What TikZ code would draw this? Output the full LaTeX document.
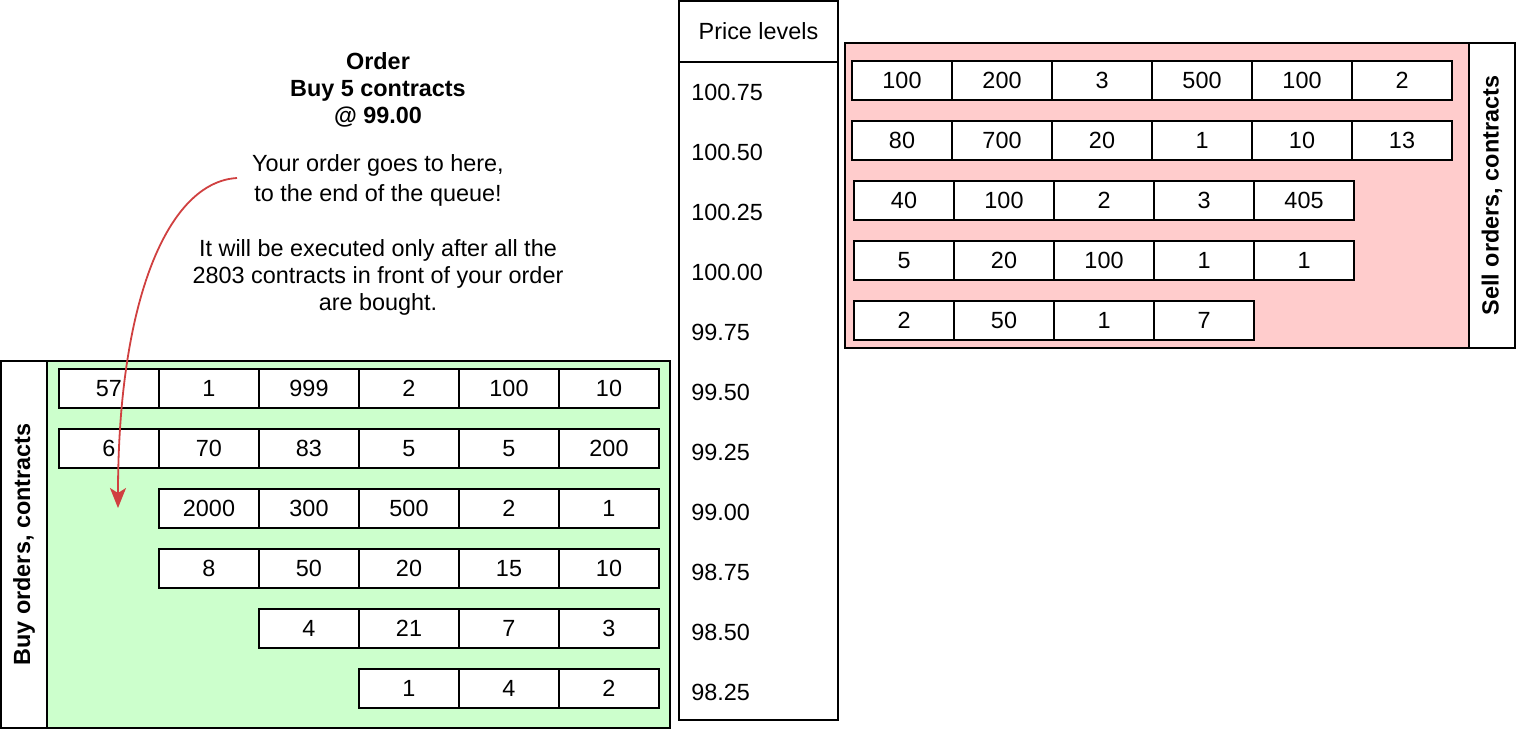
\documentclass[tikz,border=0pt]{standalone}
\usepackage{fontspec}
\setmainfont{Liberation Sans}
\usetikzlibrary{arrows.meta}
\definecolor{buyfill}{HTML}{CCFFCC}
\definecolor{sellfill}{HTML}{FFCCCC}
\definecolor{arrowred}{RGB}{208,64,64}
\begin{document}
\begin{tikzpicture}[x=0.5pt,y=-0.5pt,
  every node/.style={font=\fontsize{11.7}{13.5}\selectfont},
  cell/.style={draw=black,line width=1pt,fill=white,minimum width=50pt,minimum height=19.5pt,inner sep=0pt},
  panel/.style={draw=black,line width=1pt},
  pricelbl/.style={anchor=west,inner sep=0pt},
  sidelbl/.style={font=\fontsize{11.7}{13.5}\selectfont\bfseries,rotate=90,inner sep=0pt},
  qarrow/.style={draw=arrowred,line width=0.9pt,-{Stealth[length=10pt,width=8pt,inset=2.5pt]}}
]
\useasboundingbox (0,0) rectangle (1516,730);

% ---------- Price levels column ----------
\draw[panel,fill=white] (679,1) rectangle (838,720);
\draw[panel] (679,62) -- (838,62);
\node (pricehdr) at (758.5,31) {Price levels};
\foreach \p [count=\i] in {100.75,100.50,100.25,100.00,99.75,99.50,99.25,99.00,98.75,98.50,98.25}{
  \node[pricelbl] (price\i) at (691,{92+(\i-1)*60}) {\p};
}

% ---------- Sell panel ----------
\draw[panel,fill=sellfill] (845,43) rectangle (1515,348);
\draw[panel,fill=white] (1469,43) rectangle (1515,348);
\node[sidelbl] (selllbl) at (1492,195.5) {Sell orders, contracts};

\foreach \v [count=\i] in {100,200,3,500,100,2}{
  \node[cell] (s1c\i) at ({902+(\i-1)*100},80.5) {\v};}
\foreach \v [count=\i] in {80,700,20,1,10,13}{
  \node[cell] (s2c\i) at ({902+(\i-1)*100},140.5) {\v};}
\foreach \v [count=\i] in {40,100,2,3,405}{
  \node[cell] (s3c\i) at ({904+(\i-1)*100},200.5) {\v};}
\foreach \v [count=\i] in {5,20,100,1,1}{
  \node[cell] (s4c\i) at ({904+(\i-1)*100},260.5) {\v};}
\foreach \v [count=\i] in {2,50,1,7}{
  \node[cell] (s5c\i) at ({904+(\i-1)*100},320.5) {\v};}

% ---------- Buy panel ----------
\draw[panel,fill=buyfill] (1,361) rectangle (670,728);
\draw[panel,fill=white] (1,361) rectangle (47,728);
\node[sidelbl] (buylbl) at (24,544.5) {Buy orders, contracts};

\foreach \v [count=\i] in {57,1,999,2,100,10}{
  \node[cell] (b1c\i) at ({109+(\i-1)*100},388.5) {\v};}
\foreach \v [count=\i] in {6,70,83,5,5,200}{
  \node[cell] (b2c\i) at ({109+(\i-1)*100},448.5) {\v};}
\foreach \v [count=\i] in {2000,300,500,2,1}{
  \node[cell] (b3c\i) at ({209+(\i-1)*100},508.5) {\v};}
\foreach \v [count=\i] in {8,50,20,15,10}{
  \node[cell] (b4c\i) at ({209+(\i-1)*100},568.5) {\v};}
\foreach \v [count=\i] in {4,21,7,3}{
  \node[cell] (b5c\i) at ({309+(\i-1)*100},628.5) {\v};}
\foreach \v [count=\i] in {1,4,2}{
  \node[cell] (b6c\i) at ({409+(\i-1)*100},688.5) {\v};}

% ---------- Texts ----------
\node[align=center,font=\fontsize{11.7}{13.5}\selectfont\bfseries] (order) at (378,89.5)
  {Order\\Buy 5 contracts\\@ 99.00};
\node[align=center,font=\fontsize{11.7}{15}\selectfont] (yourorder) at (378,180)
  {Your order goes to here,\\to the end of the queue!};
\node[align=center,font=\fontsize{11.7}{13.5}\selectfont] (executed) at (378,277)
  {It will be executed only after all the\\2803 contracts in front of your order\\are bought.};

% ---------- Arrow ----------
\coordinate (arrowstart) at (237,178);
\coordinate (arrowend) at (118,508);
\draw[qarrow] (arrowstart) .. controls (168,182) and (118,300) .. (arrowend);
\end{tikzpicture}
\end{document}
